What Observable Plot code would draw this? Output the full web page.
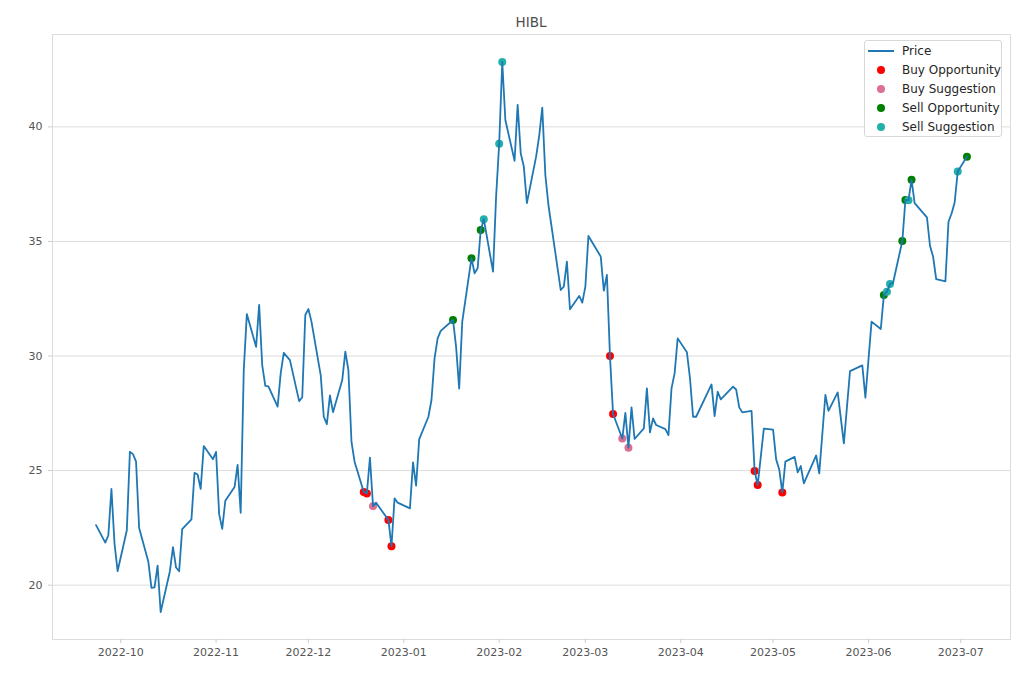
<!DOCTYPE html>
<html>
<head>
<meta charset="utf-8">
<script src="https://cdn.jsdelivr.net/npm/d3@7"></script>
<script src="https://cdn.jsdelivr.net/npm/@observablehq/plot@0.6"></script>
<style>
  html, body { margin: 0; padding: 0; background: #fff; }
  #wrap { position: relative; width: 1020px; height: 680px; font-family: "DejaVu Sans", sans-serif; }
  #title { box-sizing: border-box; height: 30px; padding: 14px 10px 0 52px; line-height: 16px; text-align: center; font-size: 13.5px; color: #4d4d4d; }
  #legend { position: absolute; left: 864px; top: 40px; width: 138px; height: 97px; border: 1px solid #d8d8d8; border-radius: 3px; background: rgba(255,255,255,0.85); box-sizing: border-box; padding-top: 0px; }
  .item { height: 19px; display: flex; align-items: center; font-size: 12px; color: #262626; }
  .sym { width: 37px; position: relative; height: 19px; flex: none; }
  .ln { position: absolute; left: 3px; top: 8.5px; width: 26px; height: 2px; }
  .dt { position: absolute; left: 12px; top: 5.5px; width: 8px; height: 8px; border-radius: 50%; }
</style>
</head>
<body>
<div id="wrap">
  <div id="title">HIBL</div>
  <div id="chart"></div>
  <div id="legend"></div>
</div>
<script>
const dates = [
"2022-09-23","2022-09-26","2022-09-27","2022-09-28","2022-09-29","2022-09-30",
"2022-10-03","2022-10-04","2022-10-05","2022-10-06","2022-10-07",
"2022-10-10","2022-10-11","2022-10-12","2022-10-13","2022-10-14",
"2022-10-17","2022-10-18","2022-10-19","2022-10-20","2022-10-21",
"2022-10-24","2022-10-25","2022-10-26","2022-10-27","2022-10-28",
"2022-10-31","2022-11-01","2022-11-02","2022-11-03","2022-11-04",
"2022-11-07","2022-11-08","2022-11-09","2022-11-10","2022-11-11",
"2022-11-14","2022-11-15","2022-11-16","2022-11-17","2022-11-18",
"2022-11-21","2022-11-22","2022-11-23","2022-11-25",
"2022-11-28","2022-11-29","2022-11-30","2022-12-01","2022-12-02",
"2022-12-05","2022-12-06","2022-12-07","2022-12-08","2022-12-09",
"2022-12-12","2022-12-13","2022-12-14","2022-12-15","2022-12-16",
"2022-12-19","2022-12-20","2022-12-21","2022-12-22","2022-12-23",
"2022-12-27","2022-12-28","2022-12-29","2022-12-30",
"2023-01-03","2023-01-04","2023-01-05","2023-01-06",
"2023-01-09","2023-01-10","2023-01-11","2023-01-12","2023-01-13",
"2023-01-17","2023-01-18","2023-01-19","2023-01-20",
"2023-01-23","2023-01-24","2023-01-25","2023-01-26","2023-01-27",
"2023-01-30","2023-01-31","2023-02-01","2023-02-02","2023-02-03",
"2023-02-06","2023-02-07","2023-02-08","2023-02-09","2023-02-10",
"2023-02-13","2023-02-14","2023-02-15","2023-02-16","2023-02-17",
"2023-02-21","2023-02-22","2023-02-23","2023-02-24",
"2023-02-27","2023-02-28","2023-03-01","2023-03-02",
"2023-03-06","2023-03-07","2023-03-08","2023-03-09","2023-03-10",
"2023-03-13","2023-03-14","2023-03-15","2023-03-16","2023-03-17",
"2023-03-20","2023-03-21","2023-03-22","2023-03-23","2023-03-24",
"2023-03-27","2023-03-28","2023-03-29","2023-03-30","2023-03-31",
"2023-04-03","2023-04-04","2023-04-05","2023-04-06",
"2023-04-11","2023-04-12","2023-04-13","2023-04-14",
"2023-04-18","2023-04-19","2023-04-20","2023-04-21",
"2023-04-24","2023-04-25","2023-04-26","2023-04-28",
"2023-05-01","2023-05-02","2023-05-03","2023-05-04","2023-05-05",
"2023-05-08","2023-05-09","2023-05-10","2023-05-11",
"2023-05-15","2023-05-16","2023-05-18","2023-05-19",
"2023-05-22","2023-05-24","2023-05-26",
"2023-05-30","2023-05-31","2023-06-02",
"2023-06-05","2023-06-06","2023-06-07","2023-06-08","2023-06-09",
"2023-06-12","2023-06-13","2023-06-14","2023-06-15","2023-06-16",
"2023-06-20","2023-06-21","2023-06-22","2023-06-23",
"2023-06-26","2023-06-27","2023-06-28","2023-06-29","2023-06-30",
"2023-07-03"
];
const prices = [
22.62,21.86,22.18,24.20,21.82,20.61,
22.40,25.82,25.72,25.39,22.50,
21.02,19.88,19.90,20.85,18.83,
20.61,21.66,20.77,20.61,22.45,
22.87,24.90,24.83,24.20,26.07,
25.50,25.82,23.10,22.46,23.68,
24.28,25.25,23.16,29.39,31.83,
30.40,32.23,29.60,28.70,28.68,
27.79,29.24,30.14,29.82,
28.03,28.20,31.79,32.05,31.50,
29.17,27.35,27.03,28.28,27.55,
28.95,30.19,29.39,26.26,25.39,
24.07,24.00,25.57,23.45,23.60,
22.84,21.70,23.79,23.60,
23.35,25.36,24.34,26.36,
27.35,28.08,29.90,30.77,31.10,
31.57,30.40,28.58,31.50,
34.27,33.61,33.83,35.50,35.97,
33.68,36.96,39.26,42.83,40.30,
38.52,40.96,38.85,38.27,36.67,
38.70,39.61,40.84,37.90,36.59,
32.88,33.03,34.12,32.04,
32.62,32.33,33.03,35.24,
34.34,32.85,33.54,30.00,27.47,
26.40,27.52,26.00,27.76,26.38,
26.84,28.59,26.67,27.28,26.99,
26.81,26.55,28.59,29.24,30.77,
30.16,29.03,27.35,27.35,
28.76,27.38,28.44,28.11,
28.66,28.54,27.76,27.54,
27.61,24.98,24.37,26.83,
26.79,25.49,25.05,24.05,25.39,
25.60,24.92,25.20,24.44,
25.66,24.88,28.30,27.61,
28.41,26.19,29.34,
29.59,28.18,31.50,
31.18,32.66,32.81,33.14,33.20,
35.02,36.81,36.80,37.69,36.67,
36.05,34.80,34.34,33.36,
33.26,35.86,36.22,36.70,38.05,
38.70
];

const buyOpportunity = ["2022-12-19","2022-12-20","2022-12-27","2022-12-28","2023-03-09","2023-03-10","2023-04-25","2023-04-26","2023-05-04"];
const buySuggestion = ["2022-12-22","2023-03-13","2023-03-15"];
const sellOpportunity = ["2023-01-17","2023-01-23","2023-01-26","2023-06-06","2023-06-12","2023-06-13","2023-06-15","2023-07-03"];
const sellSuggestion = ["2023-01-27","2023-02-01","2023-02-02","2023-06-07","2023-06-08","2023-06-14","2023-06-30"];

const seriesNames = ["Price","Buy Opportunity","Buy Suggestion","Sell Opportunity","Sell Suggestion"];
const seriesColors = ["#1f77b4","#ff0000","#db7093","#008000","#20b2aa"];
const yTicks = [20,25,30,35,40];
const title = "HIBL";

const parse = s => new Date(s + "T00:00:00Z");
const data = dates.map((d, i) => ({date: parse(d), price: prices[i]}));
const byDate = new Map(data.map(d => [+d.date, d]));
const groups = [buyOpportunity, buySuggestion, sellOpportunity, sellSuggestion];
const signals = [];
groups.forEach((arr, gi) => arr.forEach(s => {
  const p = byDate.get(+parse(s));
  if (p) signals.push({date: p.date, price: p.price, type: seriesNames[gi + 1]});
}));

// matplotlib-like 5% margins
const [t0, t1] = d3.extent(data, d => d.date);
const dt = (t1 - t0) * 0.05;
const [v0, v1] = d3.extent(data, d => d.price);
const dv = (v1 - v0) * 0.05;
const xDomain = [new Date(+t0 - dt), new Date(+t1 + dt)];
const yDomain = [v0 - dv, v1 + dv];
const monthTicks = d3.utcMonth.range(d3.utcMonth.ceil(xDomain[0]), xDomain[1]);

const chart = Plot.plot({
  width: 1020,
  height: 650,
  marginTop: 4,
  marginBottom: 41,
  marginLeft: 52,
  marginRight: 10,
  style: {fontFamily: "DejaVu Sans, sans-serif", fontSize: "11px", background: "white", color: "#555555"},
  x: {type: "utc", domain: xDomain, label: null},
  y: {domain: yDomain, label: null},
  color: {domain: seriesNames, range: seriesColors},
  marks: [
    Plot.gridY(yTicks, {stroke: "#dcdcdc", strokeOpacity: 1, strokeWidth: 1}),
    Plot.frame({stroke: "#dcdcdc"}),
    Plot.axisX(monthTicks, {tickFormat: d3.utcFormat("%Y-%m"), tickSize: 4, tickPadding: 5, stroke: "#cccccc", fill: "#555555", label: null}),
    Plot.axisY(yTicks, {tickSize: 4, tickPadding: 6, stroke: "#cccccc", fill: "#555555", label: null}),
    Plot.dot(signals, {x: "date", y: "price", fill: "type", r: 4, stroke: "none"}),
    Plot.line(data, {x: "date", y: "price", stroke: seriesColors[0], strokeWidth: 1.8})
  ]
});
document.getElementById("chart").appendChild(chart);

const legend = document.getElementById("legend");
seriesNames.forEach((n, i) => {
  const row = document.createElement("div");
  row.className = "item";
  const sym = document.createElement("span");
  sym.className = "sym";
  const mark = document.createElement("span");
  mark.className = i === 0 ? "ln" : "dt";
  mark.style.background = seriesColors[i];
  sym.appendChild(mark);
  row.appendChild(sym);
  const t = document.createElement("span");
  t.textContent = n;
  row.appendChild(t);
  legend.appendChild(row);
});
document.getElementById("title").textContent = title;
</script>
</body>
</html>
